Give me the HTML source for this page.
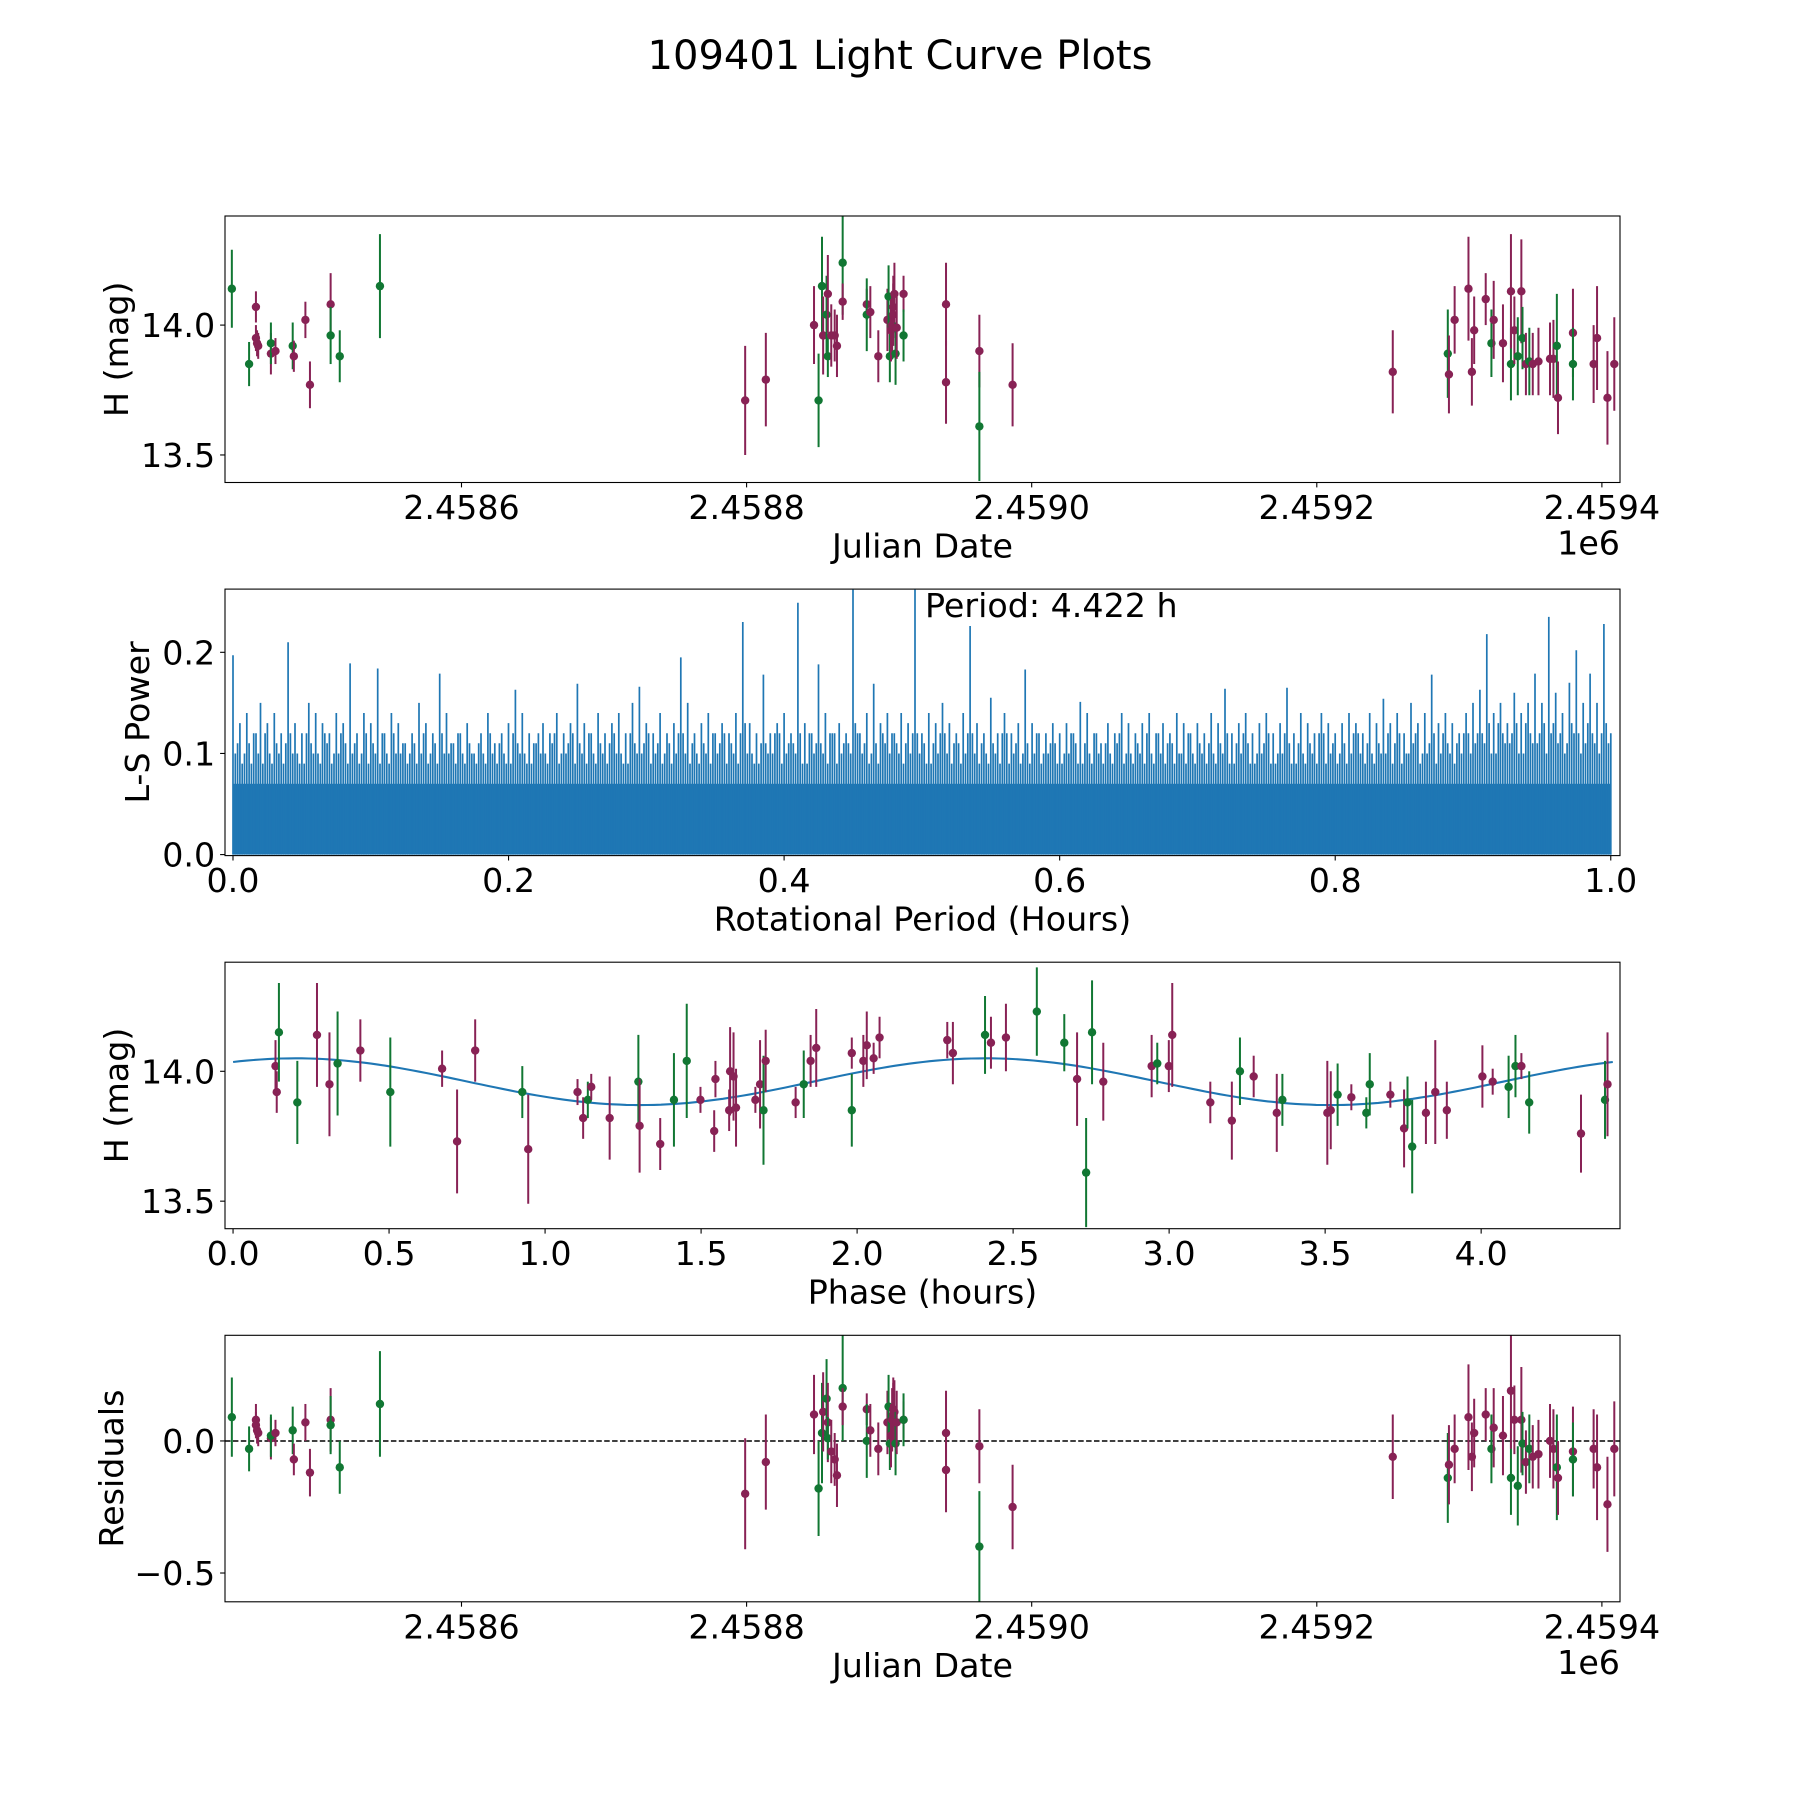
<!DOCTYPE html>
<html><head><meta charset="utf-8"><title>109401 Light Curve Plots</title>
<style>html,body{margin:0;padding:0;background:#fff}svg{display:block}text{font-family:"DejaVu Sans","Liberation Sans",sans-serif;fill:#000}</style>
</head><body>
<svg id="fig" xmlns="http://www.w3.org/2000/svg" width="1800" height="1800" viewBox="0 0 1800 1800">
<rect x="0" y="0" width="1800" height="1800" fill="#fff"/>
<text x="900" y="69" font-size="40" text-anchor="middle">109401 Light Curve Plots</text>
</svg>
<script>
// ---- light curve data (JD - 2458000) ----
const jdDays = [438.9,451.0,455.8,455.8,456.6,457.4,466.3,466.3,469.5,481.6,482.4,490.5,493.7,508.2,508.2,514.6,542.8,
799.0,813.5,847.3,850.5,852.9,853.7,856.1,857.0,857.0,859.4,861.8,863.4,867.4,867.4,884.3,884.3,886.8,892.4,898.8,899.6,900.5,901.3,902.1,902.9,902.9,903.7,904.5,905.3,910.1,910.1,939.9,939.9,963.3,963.3,986.6,
1253.3,1291.9,1292.7,1296.7,1306.4,1308.8,1310.4,1318.5,1322.5,1324.1,1330.6,1336.2,1336.2,1338.6,1341.0,1343.5,1344.3,1346.7,1349.1,1351.5,1355.5,1363.6,1366.0,1368.4,1369.2,1379.7,1379.7,1394.2,1396.6,1403.9,1408.7];
const mags = [14.14,13.85,14.07,13.95,13.93,13.92,13.89,13.93,13.90,13.92,13.88,14.02,13.77,14.08,13.96,13.88,14.15,
13.71,13.79,14.00,13.71,14.15,13.96,14.04,14.12,13.88,13.96,13.96,13.92,14.24,14.09,14.08,14.04,14.05,13.88,14.02,14.11,13.88,13.98,14.00,14.07,14.04,14.12,13.89,13.99,14.12,13.96,14.08,13.78,13.90,13.61,13.77,
13.82,13.89,13.81,14.02,14.14,13.82,13.98,14.10,13.93,14.02,13.93,13.85,14.13,13.98,13.88,14.13,13.95,13.85,13.86,13.85,13.86,13.87,13.87,13.92,13.72,13.97,13.85,13.85,13.95,13.72,13.85];
const magErrs = [.15,.085,.06,.05,.05,.05,.08,.08,.05,.09,.06,.07,.09,.12,.11,.1,.2,
.21,.18,.15,.18,.19,.15,.15,.15,.08,.12,.1,.12,.2,.07,.06,.14,.1,.1,.12,.12,.1,.12,.12,.12,.12,.12,.12,.12,.07,.1,.16,.16,.14,.21,.16,
.16,.17,.15,.13,.2,.13,.13,.1,.13,.15,.15,.14,.22,.13,.15,.2,.12,.12,.13,.12,.13,.14,.15,.2,.14,.17,.14,.15,.2,.18,.18];
const bands = ("ggpppppgpgppppggg"+"pppggpgpgpppgppgpppggpppppgppgpppgp"+"pgppppppgppgppgpgpgppppgppgpppp").split("");
const residuals = [0.09,-0.03,0.08,0.06,0.04,0.03,0.01,0.02,0.03,0.04,-0.07,0.07,-0.12,0.08,0.06,-0.10,0.14,
-0.20,-0.08,0.10,-0.18,0.03,0.11,0.16,0.07,0.01,-0.04,-0.07,-0.13,0.20,0.13,0.12,0.0,0.04,-0.03,0.07,0.13,-0.01,0.02,0.08,0.12,0.10,0.11,-0.01,0.07,0.08,0.08,0.03,-0.11,-0.02,-0.40,-0.25,
-0.06,-0.14,-0.09,-0.03,0.09,-0.06,0.03,0.10,-0.03,0.05,0.02,-0.14,0.19,0.08,-0.17,0.08,-0.01,-0.08,-0.03,-0.06,-0.05,0.0,-0.03,-0.10,-0.14,-0.04,-0.07,-0.03,-0.10,-0.24,-0.03];

// ---- phase-folded data ----
const phaseHours = [.136,.140,.147,.206,.269,.309,.335,.408,.504,.670,.718,.776,.927,.946,1.104,1.122,1.137,1.148,1.207,1.299,1.303,1.369,1.413,1.454,1.498,1.542,1.546,1.590,1.593,1.604,1.612,1.674,1.689,1.700,1.707,1.803,1.829,1.851,1.869,1.983,1.983,2.020,2.031,2.053,2.072,2.289,2.307,2.410,2.429,2.477,2.576,2.664,2.705,2.734,2.753,2.789,2.944,2.962,2.999,3.010,3.132,3.201,3.227,3.271,3.345,3.363,3.507,3.518,3.540,3.584,3.632,3.643,3.709,3.753,3.764,3.779,3.823,3.853,3.890,4.004,4.037,4.088,4.110,4.129,4.154,4.320,4.397,4.405];
const phaseMags = [14.02,13.92,14.15,13.88,14.14,13.95,14.03,14.08,13.92,14.01,13.73,14.08,13.92,13.70,13.92,13.82,13.89,13.94,13.82,13.96,13.79,13.72,13.89,14.04,13.89,13.77,13.97,13.85,14.00,13.98,13.86,13.89,13.95,13.85,14.04,13.88,13.95,14.04,14.09,13.85,14.07,14.04,14.10,14.05,14.13,14.12,14.07,14.14,14.11,14.13,14.23,14.11,13.97,13.61,14.15,13.96,14.02,14.03,14.02,14.14,13.88,13.81,14.00,13.98,13.84,13.89,13.84,13.85,13.91,13.90,13.84,13.95,13.91,13.78,13.88,13.71,13.84,13.92,13.85,13.98,13.96,13.94,14.02,14.02,13.88,13.76,13.89,13.95];
const phaseErrs = [.1,.08,.19,.16,.2,.2,.2,.12,.21,.07,.2,.12,.1,.21,.05,.08,.07,.05,.16,.18,.18,.1,.18,.22,.05,.08,.07,.08,.17,.17,.15,.05,.17,.21,.12,.06,.13,.1,.15,.14,.06,.1,.13,.06,.08,.07,.12,.15,.1,.13,.17,.11,.18,.21,.2,.15,.12,.08,.1,.2,.08,.15,.13,.08,.15,.1,.2,.15,.12,.05,.06,.12,.05,.15,.1,.18,.12,.2,.11,.12,.05,.12,.12,.05,.12,.15,.15,.2];
const phaseBands = ("ppggppgpgp"+"ppgpppgppg"+"ppggpppppp"+"pppgppgppg"+"pppppppgpp"+"ggpggppgpp"+"ppgppgppgp"+"ggppggpppp"+"pggpgpgp").split("");
const modelMean = 13.96, modelAmp = 0.09, modelPeak = 0.2, modelHalfPeriod = 2.211, bestPeriod = 4.422;

// ---- periodogram (peak power per 0.005 h bin, plus two sub-bin maxima) ----
const binWidth = 0.005;
const powerPeaks = [0.197,0.13,0.14,0.12,0.15,0.13,0.14,0.12,0.21,0.13,0.12,0.15,0.14,0.13,0.12,0.14,0.13,0.189,0.12,0.14,
0.13,0.184,0.12,0.14,0.13,0.11,0.12,0.15,0.13,0.12,0.179,0.14,0.11,0.12,0.13,0.10,0.12,0.14,0.11,0.12,
0.13,0.163,0.14,0.12,0.11,0.13,0.12,0.14,0.12,0.13,0.169,0.13,0.12,0.14,0.12,0.13,0.14,0.12,0.15,0.166,
0.13,0.12,0.14,0.12,0.13,0.195,0.15,0.12,0.13,0.14,0.12,0.13,0.12,0.14,0.23,0.13,0.12,0.178,0.12,0.13,
0.14,0.12,0.249,0.13,0.12,0.188,0.14,0.12,0.13,0.12,0.262,0.12,0.14,0.169,0.13,0.14,0.12,0.14,0.13,0.262,
0.12,0.14,0.13,0.15,0.13,0.12,0.14,0.226,0.13,0.12,0.155,0.12,0.14,0.12,0.13,0.183,0.13,0.12,0.12,0.13,
0.12,0.13,0.12,0.151,0.14,0.12,0.11,0.13,0.12,0.14,0.13,0.12,0.13,0.14,0.12,0.13,0.12,0.14,0.13,0.12,
0.13,0.12,0.14,0.13,0.164,0.12,0.13,0.14,0.12,0.13,0.14,0.12,0.13,0.165,0.12,0.14,0.13,0.12,0.14,0.13,
0.12,0.13,0.14,0.13,0.12,0.14,0.13,0.154,0.13,0.14,0.12,0.15,0.13,0.14,0.178,0.13,0.14,0.13,0.12,0.14,
0.15,0.163,0.218,0.14,0.15,0.13,0.16,0.14,0.15,0.179,0.15,0.235,0.16,0.14,0.17,0.202,0.15,0.179,0.15,0.228,0.12];
const powerThirdA = [0.10,0.09,0.11,0.12,0.09,0.10,0.11,0.09,0.12,0.10,0.09,0.11,0.10,0.12,0.09,0.10,0.11,0.10,0.09,0.12,
0.11,0.09,0.10,0.12,0.10,0.09,0.11,0.10,0.09,0.11,0.12,0.10,0.09,0.10,0.11,0.09,0.10,0.12,0.09,0.10,
0.09,0.11,0.10,0.09,0.12,0.10,0.11,0.09,0.10,0.12,0.11,0.09,0.10,0.11,0.09,0.12,0.10,0.09,0.11,0.10,
0.12,0.10,0.09,0.11,0.10,0.12,0.09,0.10,0.11,0.09,0.10,0.12,0.11,0.09,0.13,0.10,0.09,0.11,0.10,0.12,
0.10,0.11,0.12,0.09,0.10,0.11,0.09,0.12,0.10,0.11,0.13,0.10,0.09,0.11,0.12,0.10,0.11,0.09,0.10,0.12,
0.11,0.09,0.10,0.12,0.09,0.11,0.10,0.12,0.09,0.10,0.11,0.09,0.12,0.10,0.09,0.11,0.10,0.09,0.10,0.11,
0.09,0.10,0.11,0.09,0.10,0.12,0.09,0.10,0.11,0.09,0.10,0.11,0.09,0.10,0.12,0.09,0.11,0.10,0.09,0.10,
0.11,0.09,0.10,0.11,0.12,0.09,0.10,0.11,0.09,0.10,0.12,0.09,0.10,0.11,0.09,0.10,0.11,0.09,0.12,0.10,
0.09,0.11,0.10,0.12,0.09,0.10,0.11,0.10,0.09,0.12,0.10,0.11,0.09,0.10,0.12,0.10,0.11,0.09,0.10,0.12,
0.11,0.12,0.13,0.10,0.12,0.11,0.13,0.10,0.12,0.11,0.13,0.12,0.11,0.10,0.13,0.12,0.11,0.12,0.10,0.13];
const powerThirdB = [0.11,0.10,0.09,0.10,0.12,0.09,0.10,0.11,0.10,0.09,0.12,0.10,0.09,0.11,0.10,0.12,0.09,0.11,0.10,0.09,
0.10,0.12,0.09,0.10,0.11,0.10,0.09,0.12,0.10,0.09,0.10,0.11,0.12,0.09,0.10,0.11,0.09,0.10,0.11,0.09,
0.12,0.10,0.09,0.11,0.10,0.09,0.12,0.10,0.11,0.09,0.10,0.12,0.09,0.10,0.11,0.10,0.09,0.12,0.10,0.11,
0.09,0.11,0.10,0.09,0.12,0.10,0.11,0.09,0.10,0.12,0.11,0.09,0.10,0.12,0.10,0.09,0.11,0.10,0.12,0.09,
0.11,0.10,0.09,0.12,0.11,0.10,0.12,0.09,0.11,0.10,0.12,0.11,0.10,0.09,0.11,0.12,0.10,0.11,0.12,0.10,
0.09,0.11,0.12,0.10,0.11,0.09,0.12,0.10,0.11,0.09,0.10,0.12,0.09,0.11,0.10,0.09,0.12,0.10,0.11,0.09,
0.10,0.12,0.09,0.11,0.09,0.10,0.11,0.09,0.12,0.10,0.09,0.10,0.12,0.09,0.10,0.11,0.09,0.10,0.12,0.09,
0.10,0.11,0.09,0.10,0.09,0.11,0.12,0.09,0.10,0.11,0.09,0.10,0.12,0.09,0.11,0.09,0.10,0.12,0.09,0.11,
0.10,0.09,0.12,0.10,0.11,0.09,0.10,0.12,0.11,0.09,0.10,0.12,0.10,0.11,0.09,0.12,0.10,0.11,0.12,0.10,
0.12,0.11,0.10,0.13,0.11,0.12,0.10,0.13,0.11,0.12,0.10,0.13,0.12,0.11,0.12,0.10,0.13,0.11,0.12,0.11];
const powerFloor = 0.07;

// tick labels
const jdTicks = [600,800,1000,1200,1400];
const jdTickLabels = ["2.4586","2.4588","2.4590","2.4592","2.4594"];
const magTicks = [13.5,14.0];
const magTickLabels = ["13.5","14.0"];
const powerXTicks = [0,0.2,0.4,0.6,0.8,1.0];
const powerXTickLabels = ["0.0","0.2","0.4","0.6","0.8","1.0"];
const powerYTicks = [0,0.1,0.2];
const powerYTickLabels = ["0.0","0.1","0.2"];
const phaseTicks = [0,0.5,1,1.5,2,2.5,3,3.5,4];
const phaseTickLabels = ["0.0","0.5","1.0","1.5","2.0","2.5","3.0","3.5","4.0"];
const residTicks = [-0.5,0];
const residTickLabels = ["\u22120.5","0.0"];

const NS="http://www.w3.org/2000/svg";
const svg=document.getElementById('fig');
const L=225,R=1620,H=266.5;
const tops=[216,589.1,962.2,1335.3];
const PURPLE="#882255",GREEN="#117733",BLUE="#1f77b4";
function mk(tag,attrs,parent){const e=document.createElementNS(NS,tag);for(const k in attrs)e.setAttribute(k,attrs[k]);(parent||svg).appendChild(e);return e;}
function lin(d0,d1,p0,p1){return v=>p0+(v-d0)/(d1-d0)*(p1-p0);}

const xJD=lin(434.1,1412.7,L,R);
const yMag1=lin(14.42,13.394,tops[0],tops[0]+H);
const xPow=lin(-0.0058,1.0067,L,R);
const yPow=lin(0.2625,-0.001,tops[1],tops[1]+H);
const xPh=lin(-0.0258,4.445,L,R);
const yMag3=lin(14.42,13.394,tops[2],tops[2]+H);
const yRes=lin(0.40,-0.609,tops[3],tops[3]+H);

const defs=mk('defs',{});
tops.forEach((t,i)=>{const cp=mk('clipPath',{id:'clip'+i},defs);mk('rect',{x:L,y:t,width:R-L,height:H},cp);});

function axesGroup(i,name){const g=mk('g',{'clip-path':'url(#clip'+i+')'});return g;}

function frameAndTicks(i,xs,xl,xf,ys,yl,yf,prefix){
  const t=tops[i],b=t+H;
  const fr=mk('rect',{x:L,y:t,width:R-L,height:H,fill:'none',stroke:'#000','stroke-width':1.1});
  
  
  xs.forEach((v,k)=>{const x=xf(v);
    const tk=mk('line',{x1:x,x2:x,y1:b,y2:b+4.9,stroke:'#000','stroke-width':1.1});
    
    
    const tx=mk('text',{x:x,y:b+36.5,'font-size':33.3,'text-anchor':'middle'});tx.textContent=xl[k];
    
    
  });
  ys.forEach((v,k)=>{const y=yf(v);
    const tk=mk('line',{x1:L-4.9,x2:L,y1:y,y2:y,stroke:'#000','stroke-width':1.1});
    
    
    const tx=mk('text',{x:L-9.8,y:y+12,'font-size':33.3,'text-anchor':'end'});tx.textContent=yl[k];
    
    
  });
}
function xLabel(i,txt,prefix){const tx=mk('text',{x:(L+R)/2,y:tops[i]+H+75,'font-size':33.3,'text-anchor':'middle'});tx.textContent=txt;
  
  }
function yLabel(i,txt,x,prefix){const cy=tops[i]+H/2;const tx=mk('text',{x:x,y:cy,'font-size':33.3,'text-anchor':'middle',transform:'rotate(-90 '+x+' '+cy+')'});tx.textContent=txt;
  
  }
function offsetText(i,prefix){const tx=mk('text',{x:R,y:tops[i]+H+72,'font-size':33.3,'text-anchor':'end'});tx.textContent='1e6';
  
  }

function errPoint(g,x,y,yLo,yHi,band,name){
  const c=band==='g'?GREEN:PURPLE;
  const ln=mk('line',{x1:x,x2:x,y1:yLo,y2:yHi,stroke:c,'stroke-width':2},g);
  
  
  const dot=mk('circle',{cx:x,cy:y,r:4.2,fill:c},g);
  
  
}

// ---- Panel 1: light curve ----
const g1=axesGroup(0,'light-curve-plot');
jdDays.forEach((d,k)=>{errPoint(g1,xJD(d),yMag1(mags[k]),yMag1(mags[k]-magErrs[k]),yMag1(mags[k]+magErrs[k]),bands[k],'light-curve');});
frameAndTicks(0,jdTicks,jdTickLabels,xJD,magTicks,magTickLabels,yMag1,'light-curve');
xLabel(0,'Julian Date','light-curve');yLabel(0,'H (mag)',128,'light-curve');offsetText(0,'light-curve');

// ---- Panel 2: periodogram ----
const g2=axesGroup(1,'periodogram-plot');
const floorRect=mk('rect',{x:xPow(0),y:yPow(powerFloor),width:xPow(1)-xPow(0),height:yPow(0)-yPow(powerFloor),fill:BLUE},g2);


let pth='';
const y0=yPow(0).toFixed(1);
powerPeaks.forEach((p,k)=>{const x=xPow(k*binWidth);pth+='M'+x.toFixed(1)+' '+y0+'V'+yPow(p).toFixed(1);});
powerThirdA.forEach((p,k)=>{const x=xPow((k+1/3)*binWidth);pth+='M'+x.toFixed(1)+' '+y0+'V'+yPow(p).toFixed(1);});
powerThirdB.forEach((p,k)=>{const x=xPow((k+2/3)*binWidth);pth+='M'+x.toFixed(1)+' '+y0+'V'+yPow(p).toFixed(1);});
const pl=mk('path',{d:pth,stroke:BLUE,'stroke-width':1.7,fill:'none'},g2);


frameAndTicks(1,powerXTicks,powerXTickLabels,xPow,powerYTicks,powerYTickLabels,yPow,'periodogram');
xLabel(1,'Rotational Period (Hours)','periodogram');yLabel(1,'L-S Power',149,'periodogram');
const pt=mk('text',{x:925,y:617,'font-size':33.3});pt.textContent='Period: '+bestPeriod.toFixed(3)+' h';



// ---- Panel 3: phase folded ----
const g3=axesGroup(2,'phase-plot');
let md='';
for(let s=0;s<=200;s++){const ph=bestPeriod*s/200;const m=modelMean+modelAmp*Math.cos(2*Math.PI*(ph-modelPeak)/modelHalfPeriod);md+=(s?'L':'M')+xPh(ph).toFixed(1)+' '+yMag3(m).toFixed(1);}
const ml=mk('path',{d:md,stroke:BLUE,'stroke-width':2.1,fill:'none'},g3);


const nP=Math.min(phaseHours.length,phaseMags.length,phaseErrs.length,phaseBands.length);
for(let k=0;k<nP;k++){errPoint(g3,xPh(phaseHours[k]),yMag3(phaseMags[k]),yMag3(phaseMags[k]-phaseErrs[k]),yMag3(phaseMags[k]+phaseErrs[k]),phaseBands[k],'phase');}
frameAndTicks(2,phaseTicks,phaseTickLabels,xPh,magTicks,magTickLabels,yMag3,'phase');
xLabel(2,'Phase (hours)','phase');yLabel(2,'H (mag)',128,'phase');

// ---- Panel 4: residuals ----
const g4=axesGroup(3,'residuals-plot');
const zl=mk('line',{x1:L,x2:R,y1:yRes(0),y2:yRes(0),stroke:'#000','stroke-width':1.5,'stroke-dasharray':'5.5 2.4'},g4);


jdDays.forEach((d,k)=>{errPoint(g4,xJD(d),yRes(residuals[k]),yRes(residuals[k]-magErrs[k]),yRes(residuals[k]+magErrs[k]),bands[k],'residual');});
frameAndTicks(3,jdTicks,jdTickLabels,xJD,residTicks,residTickLabels,yRes,'residuals');
xLabel(3,'Julian Date','residuals');yLabel(3,'Residuals',123,'residuals');offsetText(3,'residuals');
</script>
</body></html>
